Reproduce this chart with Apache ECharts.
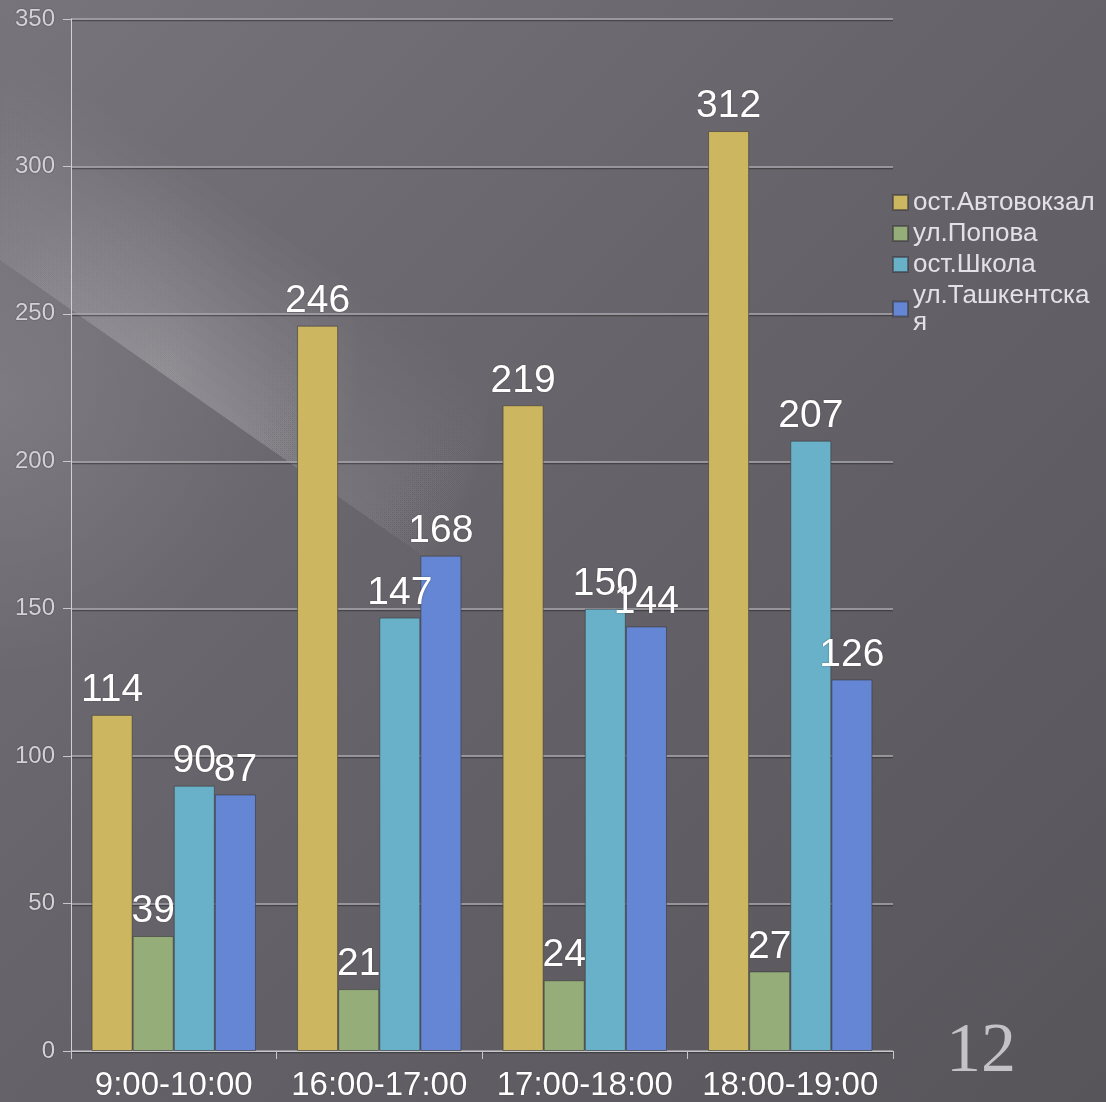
<!DOCTYPE html>
<html>
<head>
<meta charset="utf-8">
<script src="https://cdn.jsdelivr.net/npm/echarts@6/dist/echarts.min.js"></script>
<style>
  html, body { margin: 0; padding: 0; }
  #chart { width: 1106px; height: 1102px; }
</style>
</head>
<body>
<div id="chart"></div>
<script>
// Time slots and passenger counts at each stop
const categories = ['9:00-10:00', '16:00-17:00', '17:00-18:00', '18:00-19:00'];
const seriesNames = ['ост.Автовокзал', 'ул.Попова', 'ост.Школа', 'ул.Ташкентская'];
const avtovokzal = [114, 246, 219, 312];
const popova = [39, 21, 24, 27];
const shkola = [90, 147, 150, 207];
const tashkentskaya = [87, 168, 144, 126];
const yTicks = { min: 0, max: 350, interval: 50 };

const colors = ['#cdb660', '#95ad79', '#69b0c9', '#6486d4'];
const values = [avtovokzal, popova, shkola, tashkentskaya];
const FONT = 'Liberation Sans, Arial, sans-serif';

const chart = echarts.init(document.getElementById('chart'));

const series = seriesNames.map((name, i) => ({
  name: name,
  type: 'bar',
  data: values[i],
  barGap: '0%',
  barCategoryGap: '20%',
  itemStyle: { color: colors[i], borderColor: 'rgba(60,58,62,0.6)', borderWidth: 1 },
  label: {
    show: true,
    position: 'top',
    distance: 5,
    color: '#ffffff',
    fontSize: 39,
    fontFamily: FONT,
    textShadowColor: 'rgba(40,40,40,0.5)',
    textShadowBlur: 2
  }
}));

// soft light beam crossing the upper-left of the background:
// stacked layers share a sharp lower edge and fade out towards the top
const beamLayers = [];
for (let k = 0; k < 14; k++) {
  const off = k * 16;
  beamLayers.push({
    type: 'polygon',
    silent: true,
    z: -10,
    shape: { points: [[0, 40 + off], [560, 432 + off], [560, 652], [0, 260]] },
    style: {
      fill: {
        type: 'radial', x: 0.3, y: 0.5, r: 0.7,
        colorStops: [
          { offset: 0, color: 'rgba(255,255,255,0.021)' },
          { offset: 1, color: 'rgba(255,255,255,0)' }
        ]
      }
    }
  });
}
// faint glow along the left edge
beamLayers.push({
  type: 'circle',
  silent: true,
  z: -11,
  shape: { cx: 0, cy: 400, r: 280 },
  style: {
    fill: {
      type: 'radial', x: 0.5, y: 0.5, r: 0.5,
      colorStops: [
        { offset: 0, color: 'rgba(255,255,255,0.09)' },
        { offset: 1, color: 'rgba(255,255,255,0)' }
      ]
    }
  }
});

chart.setOption({
  backgroundColor: {
    type: 'linear', x: 0, y: 0, x2: 1, y2: 1,
    colorStops: [
      { offset: 0, color: '#78747c' },
      { offset: 0.45, color: '#66636a' },
      { offset: 1, color: '#57545a' }
    ]
  },
  graphic: beamLayers.concat([
    {
      type: 'text',
      left: 946,
      top: 1018,
      style: {
        text: '12',
        fill: '#c4c2c6',
        fontSize: 70,
        fontFamily: 'Liberation Serif, DejaVu Serif, serif'
      }
    }
  ]),
  grid: { left: 71, right: 213, top: 19, bottom: 51, containLabel: false },
  legend: {
    orient: 'vertical',
    left: 887,
    top: 184,
    itemWidth: 15,
    itemHeight: 15,
    itemGap: 4,
    icon: 'rect',
    data: seriesNames,
    formatter: name => name === 'ул.Ташкентская' ? 'ул.Ташкентска\nя' : name,
    textStyle: {
      color: '#e2e2e6',
      fontSize: 26,
      lineHeight: 27,
      fontFamily: FONT
    }
  },
  xAxis: {
    type: 'category',
    data: categories,
    axisLine: { show: true, lineStyle: { color: '#c8c8cc', width: 1 } },
    axisTick: { show: true, alignWithLabel: false, length: 8, lineStyle: { color: '#c8c8cc' } },
    axisLabel: {
      color: '#ffffff',
      fontSize: 33,
      margin: 18,
      interval: 0,
      fontFamily: FONT,
      textShadowColor: 'rgba(40,40,40,0.5)',
      textShadowBlur: 2
    }
  },
  yAxis: {
    type: 'value',
    min: yTicks.min,
    max: yTicks.max,
    interval: yTicks.interval,
    axisLine: { show: true, lineStyle: { color: '#d0d0d4', width: 1 } },
    axisTick: { show: true, length: 8, lineStyle: { color: '#c8c8cc' } },
    axisLabel: {
      color: '#d2d2d6',
      fontSize: 24,
      margin: 16,
      fontFamily: FONT,
      textShadowColor: 'rgba(40,40,40,0.6)',
      textShadowBlur: 2
    },
    splitLine: {
      show: true,
      lineStyle: {
        color: '#aaa8ae', width: 1.5,
        shadowColor: 'rgba(30,30,30,0.45)', shadowOffsetY: 1.5, shadowBlur: 0
      }
    }
  },
  series: series
});
</script>
</body>
</html>
